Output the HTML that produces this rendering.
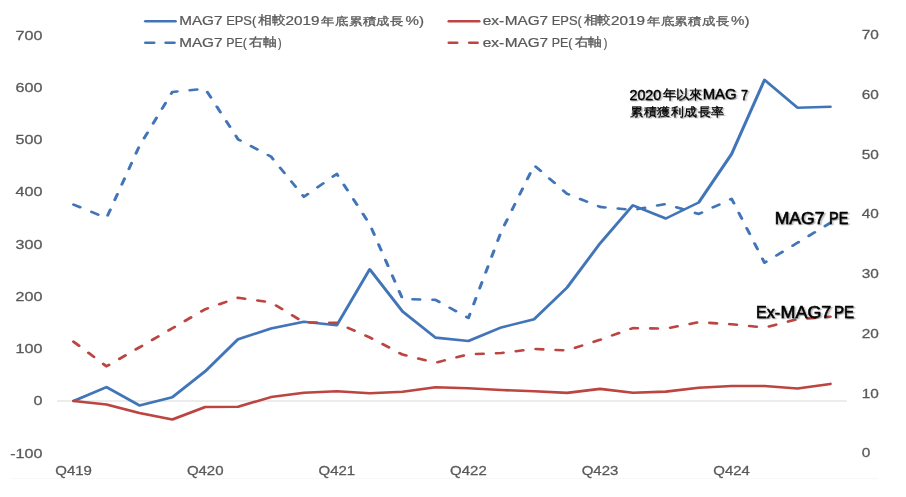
<!DOCTYPE html>
<html><head><meta charset="utf-8"><title>MAG7 EPS vs PE</title>
<style>html,body{margin:0;padding:0;background:#fff;width:906px;height:497px;overflow:hidden}
text{font-family:"Liberation Sans",sans-serif}
svg{will-change:transform}</style></head>
<body>
<svg width="906" height="497" viewBox="0 0 906 497" style="display:block">
<defs><filter id="sh" x="-10%" y="-30%" width="130%" height="160%"><feGaussianBlur in="SourceAlpha" stdDeviation="0.8"/><feOffset dx="1" dy="1" result="b"/><feComponentTransfer><feFuncA type="linear" slope="0.45"/></feComponentTransfer><feMerge><feMergeNode/><feMergeNode in="SourceGraphic"/></feMerge></filter></defs>
<rect width="906" height="497" fill="#fff"/>
<line x1="57" y1="401" x2="846.8" y2="401" stroke="#D9D9D9" stroke-width="1"/><line x1="10.5" y1="478.5" x2="878" y2="478.5" stroke="#F8F8F8" stroke-width="1"/>
<g transform="scale(1,0.83)"><polyline points="73.60,483.13 106.50,466.39 139.40,488.43 172.30,478.67 205.20,447.35 238.10,408.67 271.00,395.78 303.90,387.59 336.80,391.93 369.70,324.46 402.60,375.30 435.50,406.75 468.40,410.84 501.30,394.46 534.20,384.58 567.10,346.39 600.00,293.25 632.90,247.35 665.80,263.25 698.70,243.98 731.60,185.54 764.50,96.27 797.40,129.76 830.30,128.55" fill="none" stroke="#4175B8" stroke-width="3.1" stroke-linejoin="round" stroke-linecap="round"/><polyline points="73.60,483.13 106.50,487.35 139.40,497.47 172.30,505.42 205.20,490.36 238.10,490.00 271.00,478.43 303.90,473.25 336.80,471.33 369.70,473.86 402.60,472.05 435.50,466.51 468.40,467.71 501.30,469.88 534.20,471.45 567.10,473.37 600.00,468.55 632.90,473.25 665.80,471.81 698.70,467.11 731.60,465.06 764.50,465.06 797.40,468.07 830.30,462.53" fill="none" stroke="#BC4441" stroke-width="3.1" stroke-linejoin="round" stroke-linecap="round"/><polyline points="73.60,246.51 106.50,262.65 139.40,175.90 172.30,110.84 205.20,106.99 238.10,167.83 271.00,188.67 303.90,237.11 336.80,209.52 369.70,270.12 402.60,360.24 435.50,361.33 468.40,383.13 501.30,278.80 534.20,199.16 567.10,233.49 600.00,249.28 632.90,253.01 665.80,245.78 698.70,257.83 731.60,239.52 764.50,316.51 797.40,292.53 830.30,268.55" fill="none" stroke="#4175B8" stroke-width="3.1" stroke-linejoin="round" stroke-linecap="round" stroke-dasharray="7.3 12.7"/><polyline points="73.60,411.69 106.50,441.33 139.40,418.55 172.30,395.54 205.20,372.53 238.10,358.67 271.00,364.34 303.90,388.43 336.80,389.04 369.70,406.51 402.60,427.23 435.50,436.99 468.40,426.87 501.30,425.30 534.20,420.48 567.10,422.17 600.00,409.40 632.90,395.30 665.80,395.90 698.70,388.19 731.60,390.72 764.50,394.70 797.40,384.58 830.30,381.57" fill="none" stroke="#BC4441" stroke-width="3.1" stroke-linejoin="round" stroke-linecap="round" stroke-dasharray="7.3 12.7"/></g>
<g transform="translate(0,21.2) scale(1,0.83)"><line x1="145.5" y1="0" x2="175.3" y2="0" stroke="#4175B8" stroke-width="3.1" stroke-linecap="round"/></g>
<g transform="translate(0,21.3) scale(1,0.83)"><line x1="449" y1="0" x2="479" y2="0" stroke="#BC4441" stroke-width="3.1" stroke-linecap="round"/></g>
<g transform="translate(0,42.8) scale(1,0.83)"><line x1="145.5" y1="0" x2="154" y2="0" stroke="#4175B8" stroke-width="3.1" stroke-linecap="round"/></g>
<g transform="translate(0,42.8) scale(1,0.83)"><line x1="165.8" y1="0" x2="174.3" y2="0" stroke="#4175B8" stroke-width="3.1" stroke-linecap="round"/></g>
<g transform="translate(0,42.8) scale(1,0.83)"><line x1="449" y1="0" x2="457" y2="0" stroke="#BC4441" stroke-width="3.1" stroke-linecap="round"/></g>
<g transform="translate(0,42.8) scale(1,0.83)"><line x1="469.4" y1="0" x2="477.4" y2="0" stroke="#BC4441" stroke-width="3.1" stroke-linecap="round"/></g>
<text transform="translate(42.4,39.5) scale(1.15,0.93)" x="0" y="0" font-size="14" fill="#595959" text-anchor="end" stroke="#595959" stroke-width="0.3">700</text>
<text transform="translate(42.4,91.775) scale(1.15,0.93)" x="0" y="0" font-size="14" fill="#595959" text-anchor="end" stroke="#595959" stroke-width="0.3">600</text>
<text transform="translate(42.4,144.05) scale(1.15,0.93)" x="0" y="0" font-size="14" fill="#595959" text-anchor="end" stroke="#595959" stroke-width="0.3">500</text>
<text transform="translate(42.4,196.325) scale(1.15,0.93)" x="0" y="0" font-size="14" fill="#595959" text-anchor="end" stroke="#595959" stroke-width="0.3">400</text>
<text transform="translate(42.4,248.6) scale(1.15,0.93)" x="0" y="0" font-size="14" fill="#595959" text-anchor="end" stroke="#595959" stroke-width="0.3">300</text>
<text transform="translate(42.4,300.875) scale(1.15,0.93)" x="0" y="0" font-size="14" fill="#595959" text-anchor="end" stroke="#595959" stroke-width="0.3">200</text>
<text transform="translate(42.4,353.15) scale(1.15,0.93)" x="0" y="0" font-size="14" fill="#595959" text-anchor="end" stroke="#595959" stroke-width="0.3">100</text>
<text transform="translate(42.4,405.425) scale(1.15,0.93)" x="0" y="0" font-size="14" fill="#595959" text-anchor="end" stroke="#595959" stroke-width="0.3">0</text>
<text transform="translate(42.4,457.7) scale(1.15,0.93)" x="0" y="0" font-size="14" fill="#595959" text-anchor="end" stroke="#595959" stroke-width="0.3">-100</text>
<text transform="translate(861.8,39.2) scale(1.1,0.93)" x="0" y="0" font-size="14" fill="#595959" text-anchor="start" stroke="#595959" stroke-width="0.3">70</text>
<text transform="translate(861.8,98.93) scale(1.1,0.93)" x="0" y="0" font-size="14" fill="#595959" text-anchor="start" stroke="#595959" stroke-width="0.3">60</text>
<text transform="translate(861.8,158.66) scale(1.1,0.93)" x="0" y="0" font-size="14" fill="#595959" text-anchor="start" stroke="#595959" stroke-width="0.3">50</text>
<text transform="translate(861.8,218.39) scale(1.1,0.93)" x="0" y="0" font-size="14" fill="#595959" text-anchor="start" stroke="#595959" stroke-width="0.3">40</text>
<text transform="translate(861.8,278.12) scale(1.1,0.93)" x="0" y="0" font-size="14" fill="#595959" text-anchor="start" stroke="#595959" stroke-width="0.3">30</text>
<text transform="translate(861.8,337.84999999999997) scale(1.1,0.93)" x="0" y="0" font-size="14" fill="#595959" text-anchor="start" stroke="#595959" stroke-width="0.3">20</text>
<text transform="translate(861.8,397.58) scale(1.1,0.93)" x="0" y="0" font-size="14" fill="#595959" text-anchor="start" stroke="#595959" stroke-width="0.3">10</text>
<text transform="translate(861.8,457.30999999999995) scale(1.1,0.93)" x="0" y="0" font-size="14" fill="#595959" text-anchor="start" stroke="#595959" stroke-width="0.3">0</text>
<text transform="translate(73.6,475.0) scale(1.07,0.93)" x="0" y="0" font-size="14" fill="#595959" text-anchor="middle" stroke="#595959" stroke-width="0.3">Q419</text>
<text transform="translate(205.2,475.0) scale(1.07,0.93)" x="0" y="0" font-size="14" fill="#595959" text-anchor="middle" stroke="#595959" stroke-width="0.3">Q420</text>
<text transform="translate(336.79999999999995,475.0) scale(1.07,0.93)" x="0" y="0" font-size="14" fill="#595959" text-anchor="middle" stroke="#595959" stroke-width="0.3">Q421</text>
<text transform="translate(468.4,475.0) scale(1.07,0.93)" x="0" y="0" font-size="14" fill="#595959" text-anchor="middle" stroke="#595959" stroke-width="0.3">Q422</text>
<text transform="translate(600.0,475.0) scale(1.07,0.93)" x="0" y="0" font-size="14" fill="#595959" text-anchor="middle" stroke="#595959" stroke-width="0.3">Q423</text>
<text transform="translate(731.6,475.0) scale(1.07,0.93)" x="0" y="0" font-size="14" fill="#595959" text-anchor="middle" stroke="#595959" stroke-width="0.3">Q424</text>
<text transform="translate(0,25.46) scale(1,0.954)" x="179.17" y="0" font-size="13.5" textLength="43.35" lengthAdjust="spacingAndGlyphs" fill="#595959" stroke="#595959" stroke-width="0.25">MAG7</text>
<text transform="translate(0,25.46) scale(1,0.954)" x="226.14" y="0" font-size="13.5" textLength="30.15" lengthAdjust="spacingAndGlyphs" fill="#595959" stroke="#595959" stroke-width="0.25">EPS(</text>
<text transform="translate(0,24.46) scale(1,0.921)" x="258.33" y="0" font-size="12.5" textLength="26.63" lengthAdjust="spacingAndGlyphs" fill="#595959" stroke="#595959" stroke-width="0.35">相較</text>
<text transform="translate(0,25.46) scale(1,0.954)" x="285.49" y="0" font-size="13.5" textLength="34.01" lengthAdjust="spacingAndGlyphs" fill="#595959" stroke="#595959" stroke-width="0.25">2019</text>
<text transform="translate(0,24.61) scale(1,0.903)" x="321.24" y="0" font-size="12.5" textLength="82.88" lengthAdjust="spacingAndGlyphs" fill="#595959" stroke="#595959" stroke-width="0.35">年底累積成長</text>
<text transform="translate(0,25.46) scale(1,0.954)" x="405.48" y="0" font-size="13.5" textLength="18.46" lengthAdjust="spacingAndGlyphs" fill="#595959" stroke="#595959" stroke-width="0.25">%)</text>
<text transform="translate(0,46.67) scale(1,0.913)" x="179.17" y="0" font-size="13.5" textLength="43.35" lengthAdjust="spacingAndGlyphs" fill="#595959" stroke="#595959" stroke-width="0.25">MAG7</text>
<text transform="translate(0,46.67) scale(1,0.913)" x="226.18" y="0" font-size="13.5" textLength="20.71" lengthAdjust="spacingAndGlyphs" fill="#595959" stroke="#595959" stroke-width="0.25">PE(</text>
<text transform="translate(0,46.05) scale(1,0.940)" x="249.30" y="0" font-size="12.5" textLength="26.80" lengthAdjust="spacingAndGlyphs" fill="#595959" stroke="#595959" stroke-width="0.35">右軸</text>
<text transform="translate(0,46.67) scale(1,0.913)" x="278.10" y="0" font-size="13.5" textLength="3.60" lengthAdjust="spacingAndGlyphs" fill="#595959" stroke="#595959" stroke-width="0.25">)</text>
<text transform="translate(0,25.46) scale(1,0.954)" x="504.77" y="0" font-size="13.5" textLength="43.35" lengthAdjust="spacingAndGlyphs" fill="#595959" stroke="#595959" stroke-width="0.25">MAG7</text>
<text transform="translate(0,25.46) scale(1,0.954)" x="551.74" y="0" font-size="13.5" textLength="30.15" lengthAdjust="spacingAndGlyphs" fill="#595959" stroke="#595959" stroke-width="0.25">EPS(</text>
<text transform="translate(0,24.46) scale(1,0.921)" x="583.93" y="0" font-size="12.5" textLength="26.63" lengthAdjust="spacingAndGlyphs" fill="#595959" stroke="#595959" stroke-width="0.35">相較</text>
<text transform="translate(0,25.46) scale(1,0.954)" x="611.09" y="0" font-size="13.5" textLength="34.01" lengthAdjust="spacingAndGlyphs" fill="#595959" stroke="#595959" stroke-width="0.25">2019</text>
<text transform="translate(0,24.61) scale(1,0.903)" x="646.84" y="0" font-size="12.5" textLength="82.88" lengthAdjust="spacingAndGlyphs" fill="#595959" stroke="#595959" stroke-width="0.35">年底累積成長</text>
<text transform="translate(0,25.46) scale(1,0.954)" x="731.08" y="0" font-size="13.5" textLength="18.46" lengthAdjust="spacingAndGlyphs" fill="#595959" stroke="#595959" stroke-width="0.25">%)</text>
<text transform="translate(0,25.46) scale(1,0.954)" x="482.73" y="0" font-size="13.5" textLength="21.45" lengthAdjust="spacingAndGlyphs" fill="#595959" stroke="#595959" stroke-width="0.25">ex-</text>
<text transform="translate(0,46.67) scale(1,0.913)" x="504.77" y="0" font-size="13.5" textLength="43.35" lengthAdjust="spacingAndGlyphs" fill="#595959" stroke="#595959" stroke-width="0.25">MAG7</text>
<text transform="translate(0,46.67) scale(1,0.913)" x="551.78" y="0" font-size="13.5" textLength="20.71" lengthAdjust="spacingAndGlyphs" fill="#595959" stroke="#595959" stroke-width="0.25">PE(</text>
<text transform="translate(0,46.05) scale(1,0.940)" x="574.90" y="0" font-size="12.5" textLength="26.80" lengthAdjust="spacingAndGlyphs" fill="#595959" stroke="#595959" stroke-width="0.35">右軸</text>
<text transform="translate(0,46.67) scale(1,0.913)" x="603.70" y="0" font-size="13.5" textLength="3.60" lengthAdjust="spacingAndGlyphs" fill="#595959" stroke="#595959" stroke-width="0.25">)</text>
<text transform="translate(0,46.67) scale(1,0.913)" x="482.73" y="0" font-size="13.5" textLength="21.45" lengthAdjust="spacingAndGlyphs" fill="#595959" stroke="#595959" stroke-width="0.25">ex-</text>
<text transform="translate(0,99.76) scale(1,0.901)" x="629.44" y="0" font-size="16" textLength="31.88" lengthAdjust="spacingAndGlyphs" fill="#000" stroke="#000" stroke-width="0.45" filter="url(#sh)">2020</text>
<text transform="translate(0,99.17) scale(1,0.862)" x="662.61" y="0" font-size="15" textLength="39.92" lengthAdjust="spacingAndGlyphs" fill="#000" stroke="#000" stroke-width="0.35" filter="url(#sh)">年以來</text>
<text transform="translate(0,99.37) scale(1,0.877)" x="702.65" y="0" font-size="16" textLength="34.03" lengthAdjust="spacingAndGlyphs" fill="#000" stroke="#000" stroke-width="0.45" filter="url(#sh)">MAG</text>
<text transform="translate(0,99.76) scale(1,0.901)" x="741.11" y="0" font-size="16" textLength="7.00" lengthAdjust="spacingAndGlyphs" fill="#000" stroke="#000" stroke-width="0.45" filter="url(#sh)">7</text>
<text transform="translate(0,116.07) scale(1,0.813)" x="630.17" y="0" font-size="15" textLength="94.68" lengthAdjust="spacingAndGlyphs" fill="#000" stroke="#000" stroke-width="0.35" filter="url(#sh)">累積獲利成長率</text>
<text transform="translate(0,223.96) scale(1,0.907)" x="774.64" y="0" font-size="19" textLength="49.81" lengthAdjust="spacingAndGlyphs" fill="#000" stroke="#000" stroke-width="0.65" filter="url(#sh)">MAG7</text>
<text transform="translate(0,223.96) scale(1,0.907)" x="829.05" y="0" font-size="19" textLength="19.20" lengthAdjust="spacingAndGlyphs" fill="#000" stroke="#000" stroke-width="0.65" filter="url(#sh)">PE</text>
<text transform="translate(0,318.36) scale(1,0.907)" x="755.94" y="0" font-size="19" textLength="24.19" lengthAdjust="spacingAndGlyphs" fill="#000" stroke="#000" stroke-width="0.65" filter="url(#sh)">Ex-</text>
<text transform="translate(0,318.36) scale(1,0.907)" x="780.62" y="0" font-size="19" textLength="50.64" lengthAdjust="spacingAndGlyphs" fill="#000" stroke="#000" stroke-width="0.65" filter="url(#sh)">MAG7</text>
<text transform="translate(0,318.36) scale(1,0.907)" x="834.01" y="0" font-size="19" textLength="20.17" lengthAdjust="spacingAndGlyphs" fill="#000" stroke="#000" stroke-width="0.65" filter="url(#sh)">PE</text>
</svg>
</body></html>
